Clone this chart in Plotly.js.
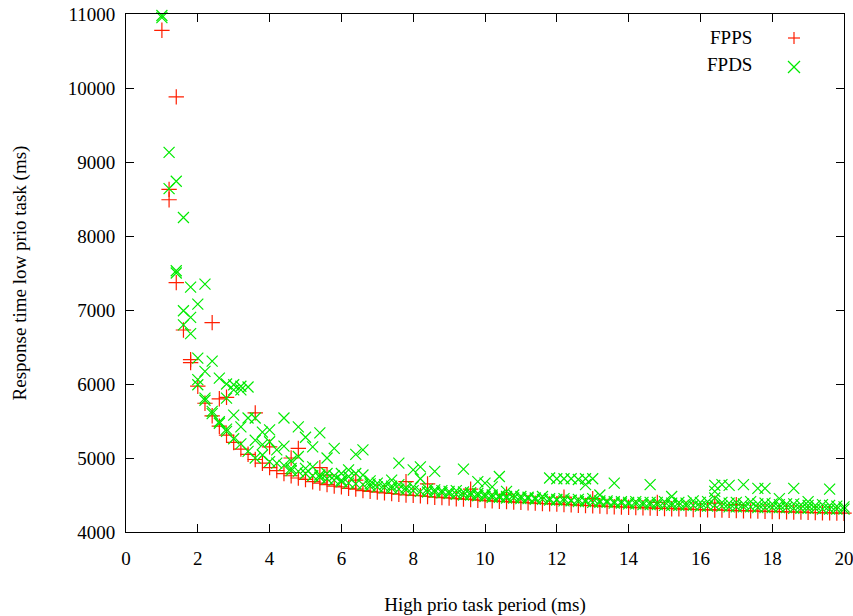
<!DOCTYPE html>
<html>
<head>
<meta charset="utf-8">
<script src="https://cdn.plot.ly/plotly-3.0.1.min.js"></script>
<style>html,body{margin:0;padding:0;background:#fff;}#chart{width:853px;height:616px;}</style>
</head>
<body>
<div id="chart"></div>
<script>
// High-priority task periods (ms)
const periods = [
  1.0,1.2,1.4,1.6,1.8, 2.0,2.2,2.4,2.6,2.8, 3.0,3.2,3.4,3.6,3.8, 4.0,4.2,4.4,4.6,4.8,
  5.0,5.2,5.4,5.6,5.8, 6.0,6.2,6.4,6.6,6.8, 7.0,7.2,7.4,7.6,7.8, 8.0,8.2,8.4,8.6,8.8,
  9.0,9.2,9.4,9.6,9.8, 10.0,10.2,10.4,10.6,10.8, 11.0,11.2,11.4,11.6,11.8, 12.0,12.2,12.4,12.6,12.8,
  13.0,13.2,13.4,13.6,13.8, 14.0,14.2,14.4,14.6,14.8, 15.0,15.2,15.4,15.6,15.8, 16.0,16.2,16.4,16.6,16.8,
  17.0,17.2,17.4,17.6,17.8, 18.0,18.2,18.4,18.6,18.8, 19.0,19.2,19.4,19.6,19.8, 20.0
];

// FPPS main response times (ms), one per period
const fppsResponse = [
  10780,8490,7370,6730,6290, 5970,5740,5570,5430,5310, 5210,5120,5050,4980,4930, 4870,4830,4790,4760,4730,
  4710,4680,4660,4640,4620, 4610,4590,4580,4560,4550, 4540,4530,4520,4510,4500, 4495,4490,4480,4470,4465,
  4460,4450,4445,4440,4430, 4425,4420,4415,4410,4405, 4400,4395,4390,4385,4380, 4378,4372,4368,4362,4358,
  4355,4350,4345,4342,4338, 4335,4330,4328,4325,4320, 4318,4315,4312,4310,4305, 4302,4300,4298,4295,4292,
  4290,4288,4285,4282,4280, 4278,4275,4272,4270,4268, 4265,4262,4260,4258,4256, 4254
];

// Additional FPPS samples
const fppsExtraPeriod   = [1.2, 1.4, 1.8, 2.4, 2.6, 2.8, 3.6, 4.0, 4.6, 4.8, 5.4, 5.6, 6.4, 7.8, 8.4, 9.6, 10.6, 12.2, 13.0, 14.8, 16.4, 17.0];
const fppsExtraResponse = [8630, 9880, 6330, 6830, 5800, 5820, 5610, 5150, 5000, 5130, 4870, 4770, 4700, 4680, 4650, 4580, 4510, 4470, 4450, 4400, 4390, 4370];

// FPDS response times (ms), samples per period (aligned with periods)
const fpdsResponse = [
  [10980,10950],[9130,8640],[8740,7530,7500],[8250,6990,6800],[7310,6900,6680],
  [7080,6350,6060,5990],[7350,6170,5810,5780],[6310,5630,5600],[6080,5490,5470],[6000,5810,5390,5360],
  [5990,5920,5580,5260],[5970,5920,5420,5190],[5960,5540,5090],[5540,5240,5000],[5350,5180,5040],
  [5380,5220,4950],[5110,4930],[5540,5160,4900],[4960,4860,4830],[5420,5020,4820],
  [5280,4860,4790],[5150,4880,4760],[5340,4770,4740],[5000,4790,4720],[5130,4760,4700],
  [4790,4700,4680],[4840,4750,4660],[5050,4790,4650],[5110,4770,4640],[4690,4650,4620],
  [4660,4610],[4640,4600],[4700,4620,4590],[4930,4640,4580],[4600,4570],
  [4840,4610,4560],[4880,4720,4550],[4580,4540],[4820,4570,4540],[4560,4530],
  [4550,4520],[4560,4510],[4850,4540,4500],[4530,4500],[4680,4520,4490],
  [4660,4510,4480],[4610,4500,4470],[4750,4490,4470],[4550,4480,4460],[4500,4460],
  [4480,4450],[4470,4450],[4460,4440],[4480,4440],[4730,4450,4430],
  [4720,4440,4430],[4720,4450,4420],[4720,4430,4420],[4710,4440,4410],[4720,4640,4430,4410],
  [4720,4450,4400],[4500,4420,4400],[4420,4400],[4660,4410,4390],[4410,4390],
  [4400,4380],[4410,4380],[4400,4370],[4640,4400,4370],[4400,4370],
  [4410,4360],[4480,4390,4360],[4400,4360],[4390,4360],[4420,4360],
  [4400,4350],[4410,4350],[4630,4550,4460,4360],[4640,4400,4350],[4630,4390,4340],
  [4400,4340],[4640,4380,4340],[4410,4340],[4590,4380,4330],[4590,4390,4330],
  [4380,4330],[4450,4370,4330],[4380,4330],[4590,4380,4320],[4370,4320],
  [4410,4360,4320],[4360,4320],[4370,4310],[4580,4360,4310],[4350,4310],
  [4340,4310]
];

const xTicks = [0,2,4,6,8,10,12,14,16,18,20];
const yTicks = [4000,5000,6000,7000,8000,9000,10000,11000];
const seriesNames = ['FPPS','FPDS'];

const RED = 'rgb(255,30,0)';
const GREEN = 'rgb(0,235,0)';
const FONT = 'Liberation Serif, Times New Roman, serif';
const FS = 19;

const fppsX = periods.concat(fppsExtraPeriod);
const fppsY = fppsResponse.concat(fppsExtraResponse);
const fpdsX = [], fpdsY = [];
periods.forEach((p, i) => fpdsResponse[i].forEach(v => { fpdsX.push(p); fpdsY.push(v); }));

const traces = [
  {x: fppsX, y: fppsY, type: 'scatter', mode: 'markers', name: seriesNames[0], cliponaxis: false,
   marker: {symbol: 'cross-thin', size: 11, color: RED, line: {color: RED, width: 1.2}}},
  {x: fpdsX, y: fpdsY, type: 'scatter', mode: 'markers', name: seriesNames[1], cliponaxis: false,
   marker: {symbol: 'x-thin', size: 11, color: GREEN, line: {color: GREEN, width: 1.2}}}
];

const axisCommon = {
  showgrid: false, zeroline: false, showline: true, linecolor: '#000', linewidth: 1,
  mirror: 'ticks', ticks: 'inside', ticklen: 8, tickcolor: '#000', tickwidth: 1,
  ticklabeloverflow: 'allow',
  tickfont: {family: FONT, size: FS, color: '#000'}
};

const px2paperX = v => (v - 126) / (844 - 126);
const px2paperY = v => (532 - v) / (532 - 14);

const layout = {
  width: 853, height: 616,
  margin: {l: 126, r: 9, t: 14, b: 84},
  paper_bgcolor: '#fff', plot_bgcolor: '#fff',
  showlegend: false,
  xaxis: Object.assign({}, axisCommon, {
    range: [0, 20], tickvals: xTicks, ticktext: xTicks.map(String), ticklabelstandoff: 9,
    title: {text: 'High prio task period (ms)', font: {family: FONT, size: FS, color: '#000'}, standoff: 30}
  }),
  yaxis: Object.assign({}, axisCommon, {
    range: [4000, 11000], tickvals: yTicks, ticktext: yTicks.map(String), ticklabelstandoff: 6,
    title: {text: 'Response time low prio task (ms)', font: {family: FONT, size: FS, color: '#000'}, standoff: 36}
  }),
  annotations: [
    {xref: 'paper', yref: 'paper', x: px2paperX(754), y: px2paperY(37), xanchor: 'right', yanchor: 'middle',
     text: seriesNames[0], showarrow: false, font: {family: FONT, size: FS, color: '#000'}},
    {xref: 'paper', yref: 'paper', x: px2paperX(754), y: px2paperY(64), xanchor: 'right', yanchor: 'middle',
     text: seriesNames[1], showarrow: false, font: {family: FONT, size: FS, color: '#000'}}
  ],
  shapes: [
    {type: 'line', xref: 'paper', yref: 'paper', xsizemode: 'pixel', ysizemode: 'pixel',
     xanchor: px2paperX(794), yanchor: px2paperY(38), x0: -6, x1: 6, y0: 0, y1: 0, line: {color: RED, width: 1.2}},
    {type: 'line', xref: 'paper', yref: 'paper', xsizemode: 'pixel', ysizemode: 'pixel',
     xanchor: px2paperX(794), yanchor: px2paperY(38), x0: 0, x1: 0, y0: -6, y1: 6, line: {color: RED, width: 1.2}},
    {type: 'line', xref: 'paper', yref: 'paper', xsizemode: 'pixel', ysizemode: 'pixel',
     xanchor: px2paperX(794), yanchor: px2paperY(67), x0: -6, x1: 6, y0: -6, y1: 6, line: {color: GREEN, width: 1.2}},
    {type: 'line', xref: 'paper', yref: 'paper', xsizemode: 'pixel', ysizemode: 'pixel',
     xanchor: px2paperX(794), yanchor: px2paperY(67), x0: -6, x1: 6, y0: 6, y1: -6, line: {color: GREEN, width: 1.2}}
  ]
};

Plotly.newPlot('chart', traces, layout, {displayModeBar: false, staticPlot: true});
</script>
</body>
</html>
